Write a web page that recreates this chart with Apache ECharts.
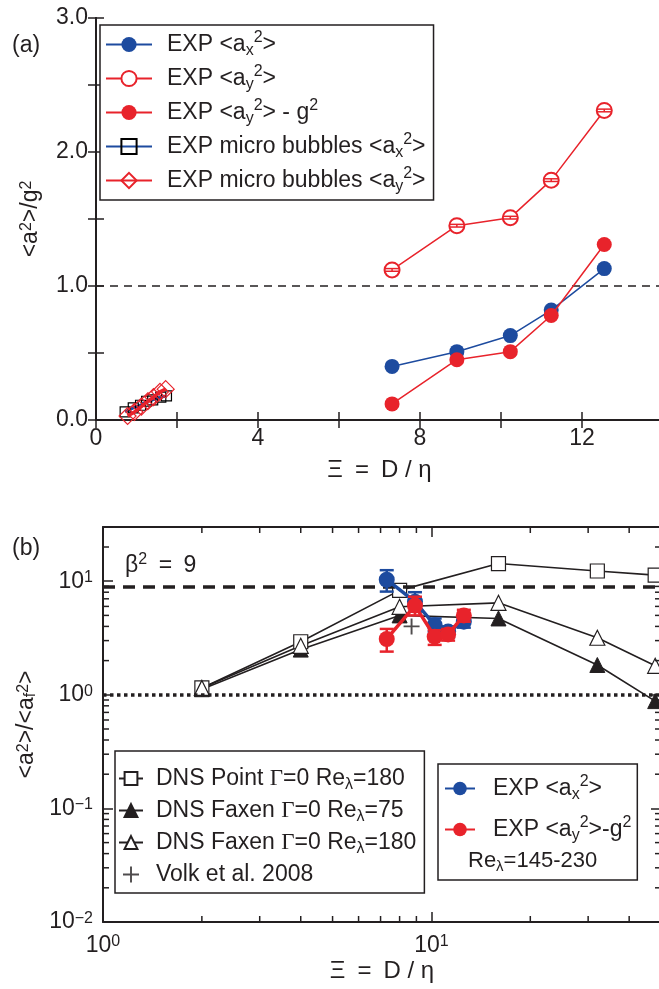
<!DOCTYPE html>
<html><head><meta charset="utf-8">
<script src="https://cdn.jsdelivr.net/npm/echarts@6/dist/echarts.min.js"></script>
<style>html,body{margin:0;padding:0;background:#fff}#main{width:659px;height:989px}</style>
</head><body><div id="main"></div>
<script>
// ---------- Panel (a) data ----------
const expX = [7.31, 8.91, 10.23, 11.24, 12.55];
const expAx2 = [0.40, 0.51, 0.63, 0.82, 1.13];
const expAy2 = [1.12, 1.45, 1.51, 1.79, 2.31];
const expAy2Lo = [1.11, 1.44, 1.50, 1.78, 2.30];
const expAy2Hi = [1.13, 1.46, 1.52, 1.80, 2.32];
const expAy2g2 = [0.12, 0.45, 0.51, 0.78, 1.31];
const microAxX = [0.72, 0.92, 1.10, 1.25, 1.40, 1.60, 1.74];
const microAx2 = [0.06, 0.09, 0.11, 0.14, 0.15, 0.17, 0.18];
const microAyX = [0.78, 0.95, 1.12, 1.28, 1.42, 1.58, 1.72];
const microAy2 = [0.03, 0.06, 0.10, 0.14, 0.17, 0.21, 0.23];
const refLineA = 1.0;

// ---------- Panel (b) data ----------
const dnsX = [2, 4, 8, 16, 32, 48];
const dnsPoint180 = [1.15, 2.93, 8.3, 14.3, 12.3, 11.3];
const dnsFaxen75 = [1.12, 2.50, 5.0, 4.7, 1.83, 0.88];
const dnsFaxen180 = [1.15, 2.70, 5.95, 6.45, 3.18, 1.80];
const volkX = [8.7];
const volkY = [4.0];
const ratioX = [10.3, 6.6, 4.1, 3.6, 4.4];
const ratioXLo = [8.1, 5.4, 3.6, 3.2, 3.9];
const ratioXHi = [12.5, 8.0, 4.7, 4.0, 4.9];
const ratioY = [3.1, 6.1, 3.25, 3.4, 5.0];
const ratioYLo = [2.4, 5.0, 2.75, 3.0, 4.4];
const ratioYHi = [3.8, 7.3, 3.7, 3.8, 5.6];
const beta2 = 9;
const unity = 1;
const xMinorB = [2, 3, 4, 5, 6, 7, 8, 9, 20, 30, 40];
const yMinorB = [0.02,0.03,0.04,0.05,0.06,0.07,0.08,0.09,0.2,0.3,0.4,0.5,0.6,0.7,0.8,0.9,2,3,4,5,6,7,8,9,20];
const xRangeB = [1, 50];
const yRangeB = [0.01, 30];

// ---------- styling ----------
const F = '"Liberation Sans", Arial, sans-serif';
const FS = 23;
const NFS = 24;
const INK = '#231f20';
const BLUE = '#1d4b9f';
const RED = '#e8232b';
function rich(fs, gap) {
  const s = Math.round(fs * 0.68);
  return {
    sup: {fontSize: s, fontFamily: F, color: INK, verticalAlign: 'top', lineHeight: s},
    sub: {fontSize: s, fontFamily: F, color: INK, verticalAlign: 'bottom', lineHeight: s},
    gr: {fontSize: fs, fontFamily: '"Liberation Serif", serif', color: INK, lineHeight: fs + 6},
    sp: {width: gap || 0, fontSize: fs, lineHeight: fs + 6}
  };
}
const R = rich(FS, 0);
const RN = rich(NFS, 0);

const labelsA = {
  ax2: 'EXP <a{sub|x}{sup|2}>',
  ay2: 'EXP <a{sub|y}{sup|2}>',
  ay2g2: 'EXP <a{sub|y}{sup|2}> - g{sup|2}',
  mAx2: 'EXP micro bubbles <a{sub|x}{sup|2}>',
  mAy2: 'EXP micro bubbles <a{sub|y}{sup|2}>'
};
const labelsB = {
  dnsP: 'DNS Point {gr|Γ}=0 Re{sub|λ}=180',
  dnsF75: 'DNS Faxen {gr|Γ}=0 Re{sub|λ}=75',
  dnsF180: 'DNS Faxen {gr|Γ}=0 Re{sub|λ}=180',
  volk: 'Volk et al. 2008',
  bAx: 'EXP <a{sub|x}{sup|2}>',
  bAy: 'EXP <a{sub|y}{sup|2}>-g{sup|2}'
};
const allLabels = Object.assign({}, labelsA, labelsB);

function decade(v) {
  const e = Math.log10(v), r = Math.round(e);
  if (Math.abs(e - r) > 1e-6) return '';
  return '10{sup|' + (r < 0 ? '\u2212' + (-r) : r) + '}';
}

const axisLineS = {lineStyle: {color: INK, width: 2}};
const tickS = (len) => ({inside: true, length: len, lineStyle: {color: INK, width: 1.5}});
const lblS = {fontSize: FS, color: INK, fontFamily: F, rich: R};
const nameX = {fontSize: NFS, color: INK, fontFamily: F, rich: RN};
const nameY = {fontSize: FS, color: INK, fontFamily: F, rich: R};
const xName = 'Ξ\u2002=\u2002D / η';

const zip = (a, b) => a.map((v, i) => [v, b[i]]);

function errBar(color, cap, lw) {
  return function (params, api) {
    const x = api.value(0), lo = api.value(1), hi = api.value(2);
    const p1 = api.coord([x, lo]), p2 = api.coord([x, hi]);
    const st = {stroke: color, lineWidth: lw};
    return {type: 'group', children: [
      {type: 'line', shape: {x1: p1[0], y1: p1[1], x2: p2[0], y2: p2[1]}, style: st},
      {type: 'line', shape: {x1: p1[0] - cap, y1: p1[1], x2: p1[0] + cap, y2: p1[1]}, style: st},
      {type: 'line', shape: {x1: p2[0] - cap, y1: p2[1], x2: p2[0] + cap, y2: p2[1]}, style: st}
    ]};
  };
}
function legendText(gap) {
  return {fontSize: FS, color: INK, fontFamily: F, lineHeight: 28, rich: rich(FS, gap)};
}

const chart = echarts.init(document.getElementById('main'));
const option = {
  animation: false,
  backgroundColor: '#fff',
  textStyle: {fontFamily: F},
  grid: [
    {left: 96, top: 18, width: 567, height: 402, containLabel: false, outerBoundsMode: 'none'},
    {left: 103, top: 527, width: 558, height: 395, containLabel: false, outerBoundsMode: 'none'}
  ],
  xAxis: [
    {gridIndex: 0, type: 'value', min: 0, max: 14, interval: 2, position: 'bottom',
     axisLine: axisLineS, axisTick: tickS(8), splitLine: {show: false},
     axisLabel: Object.assign({}, lblS, {margin: 7, formatter: v => (v % 4 === 0 && v < 14) ? String(v) : ''}),
     name: xName, nameLocation: 'middle', nameGap: 38, nameTextStyle: nameX},
    {gridIndex: 0, type: 'value', min: 0, max: 14, interval: 2, position: 'top',
     axisLine: axisLineS, axisTick: tickS(8), splitLine: {show: false}, axisLabel: {show: false}},
    {gridIndex: 1, type: 'log', min: xRangeB[0], max: xRangeB[1], position: 'bottom',
     axisLine: axisLineS, axisTick: tickS(10), splitLine: {show: false}, minorTick: {show: false},
     axisLabel: Object.assign({}, lblS, {margin: 12, formatter: decade}),
     name: xName, nameLocation: 'middle', nameGap: 37, nameTextStyle: nameX},
    {gridIndex: 1, type: 'log', min: xRangeB[0], max: xRangeB[1], position: 'top',
     axisLine: axisLineS, axisTick: tickS(10), splitLine: {show: false}, axisLabel: {show: false}}
  ],
  yAxis: [
    {gridIndex: 0, type: 'value', min: 0, max: 3, interval: 0.5, position: 'left',
     axisLine: axisLineS, axisTick: tickS(8), splitLine: {show: false},
     axisLabel: Object.assign({}, lblS, {margin: 8, formatter: v => (Math.abs(v - Math.round(v)) < 1e-9) ? v.toFixed(1) : ''}),
     name: '<a{sup|2}>/g{sup|2}', nameLocation: 'middle', nameGap: 54, nameRotate: 90, nameTextStyle: nameY},
    {gridIndex: 0, type: 'value', min: 0, max: 3, interval: 0.5, position: 'right',
     axisLine: axisLineS, axisTick: tickS(8), splitLine: {show: false}, axisLabel: {show: false}},
    {gridIndex: 1, type: 'log', min: yRangeB[0], max: yRangeB[1], position: 'left',
     axisLine: axisLineS, axisTick: tickS(10), splitLine: {show: false},
     axisLabel: Object.assign({}, lblS, {margin: 10, formatter: decade}),
     name: '<a{sup|2}>/<a{sub|f}{sup|2}>', nameLocation: 'middle', nameGap: 60, nameRotate: 90, nameTextStyle: nameY},
    {gridIndex: 1, type: 'log', min: yRangeB[0], max: yRangeB[1], position: 'right',
     axisLine: axisLineS, axisTick: tickS(10), splitLine: {show: false}, axisLabel: {show: false}}
  ],
  legend: [
    {left: 100, top: 25, orient: 'vertical', itemWidth: 46, itemHeight: 19, itemGap: 5,
     padding: [5, 8, 5, 5], borderColor: INK, borderWidth: 1.5, backgroundColor: '#fff',
     data: Object.keys(labelsA), formatter: n => '{sp| }' + allLabels[n],
     textStyle: legendText(10)},
    {left: 115, top: 751, orient: 'vertical', itemWidth: 24, itemHeight: 16, itemGap: 3,
     padding: [13, 8, 4, 3], borderColor: INK, borderWidth: 1.5, backgroundColor: '#fff',
     data: ['dnsP', 'dnsF75', 'dnsF180', 'volk'], formatter: n => '{sp| }' + allLabels[n],
     textStyle: legendText(8)},
    {left: 438, top: 764, orient: 'vertical', itemWidth: 30, itemHeight: 17, itemGap: 12,
     padding: [10, 6, 36, 6], borderColor: INK, borderWidth: 1.5, backgroundColor: '#fff',
     data: ['bAx', 'bAy'], formatter: n => '{sp| }' + allLabels[n],
     textStyle: legendText(13)}
  ],
  graphic: [
    {type: 'text', left: 12, top: 34, style: {text: '(a)', font: FS + 'px ' + F, fill: INK}},
    {type: 'text', left: 12, top: 537, style: {text: '(b)', font: FS + 'px ' + F, fill: INK}},
    {type: 'text', left: 125, top: 552, style: {text: 'β{sup|2}\u2002=\u20029', font: FS + 'px ' + F, fill: INK, lineHeight: 28, rich: R}},
    {type: 'text', left: 468, top: 848, z: 100, style: {text: 'Re{sub|λ}=145-230', font: '22px ' + F, fill: INK, lineHeight: 26, rich: rich(22, 0)}}
  ],
  series: [
    // ----- panel (a)
    {name: 'mAx2', type: 'line', xAxisIndex: 0, yAxisIndex: 0, data: zip(microAxX, microAx2),
     symbol: 'rect', symbolSize: 10, lineStyle: {color: BLUE, width: 3},
     itemStyle: {color: 'rgba(255,255,255,0)', borderColor: '#000', borderWidth: 1.2}, z: 3},
    {name: 'mAy2', type: 'line', xAxisIndex: 0, yAxisIndex: 0, data: zip(microAyX, microAy2),
     symbol: 'diamond', symbolSize: 17, lineStyle: {color: RED, width: 3.5},
     itemStyle: {color: 'rgba(255,255,255,0)', borderColor: RED, borderWidth: 1.2}, z: 4},
    {name: 'ay2', type: 'line', xAxisIndex: 0, yAxisIndex: 0, data: zip(expX, expAy2),
     symbol: 'emptyCircle', symbolSize: 15, lineStyle: {color: RED, width: 1.5},
     itemStyle: {color: RED, borderColor: RED, borderWidth: 1}, z: 3,
     markLine: {silent: true, symbol: 'none', label: {show: false},
       lineStyle: {color: INK, width: 1.5, type: [8, 6]}, data: [{yAxis: refLineA}]}},
    {name: 'ay2err', type: 'custom', xAxisIndex: 0, yAxisIndex: 0, silent: true, z: 4,
     data: expX.map((x, i) => [x, expAy2Lo[i], expAy2Hi[i]]), encode: {x: 0, y: [1, 2]},
     renderItem: errBar(RED, 7.5, 1.5)},
    {name: 'ax2', type: 'line', xAxisIndex: 0, yAxisIndex: 0, data: zip(expX, expAx2),
     symbol: 'circle', symbolSize: 15, lineStyle: {color: BLUE, width: 1.5},
     itemStyle: {color: BLUE}, z: 5},
    {name: 'ay2g2', type: 'line', xAxisIndex: 0, yAxisIndex: 0, data: zip(expX, expAy2g2),
     symbol: 'circle', symbolSize: 15, lineStyle: {color: RED, width: 1.5},
     itemStyle: {color: RED}, z: 6},
    // ----- panel (b)
    {name: 'dnsP', type: 'line', xAxisIndex: 2, yAxisIndex: 2, data: zip(dnsX, dnsPoint180),
     symbol: 'rect', symbolSize: 14, lineStyle: {color: INK, width: 1.6},
     itemStyle: {color: '#fff', borderColor: INK, borderWidth: 1.2}, z: 3,
     markLine: {silent: true, symbol: 'none', label: {show: false},
       data: [
         {yAxis: beta2, lineStyle: {color: INK, width: 3.5, type: [12, 8]}},
         {yAxis: unity, lineStyle: {color: INK, width: 3.5, type: [3.5, 3.5]}}
       ]}},
    {name: 'dnsF75', type: 'line', xAxisIndex: 2, yAxisIndex: 2, data: zip(dnsX, dnsFaxen75),
     symbol: 'triangle', symbolSize: 15, lineStyle: {color: INK, width: 1.6},
     itemStyle: {color: INK, borderColor: INK, borderWidth: 1}, z: 3},
    {name: 'dnsF180', type: 'line', xAxisIndex: 2, yAxisIndex: 2, data: zip(dnsX, dnsFaxen180),
     symbol: 'triangle', symbolSize: 15, lineStyle: {color: INK, width: 1.6},
     itemStyle: {color: '#fff', borderColor: INK, borderWidth: 1.2}, z: 3},
    {name: 'volk', type: 'scatter', xAxisIndex: 2, yAxisIndex: 2, data: zip(volkX, volkY),
     symbol: 'path://M4.4,0H5.6V4.4H10V5.6H5.6V10H4.4V5.6H0V4.4H4.4Z', symbolSize: 16,
     itemStyle: {color: INK}, z: 4},
    {name: 'bAxErr', type: 'custom', xAxisIndex: 2, yAxisIndex: 2, silent: true, z: 5,
     data: expX.map((x, i) => [x, ratioXLo[i], ratioXHi[i]]), encode: {x: 0, y: [1, 2]},
     renderItem: errBar(BLUE, 7, 2.5)},
    {name: 'bAx', type: 'line', xAxisIndex: 2, yAxisIndex: 2, data: zip(expX, ratioX),
     symbol: 'circle', symbolSize: 16, lineStyle: {color: BLUE, width: 3.5},
     itemStyle: {color: BLUE}, z: 6},
    {name: 'bAyErr', type: 'custom', xAxisIndex: 2, yAxisIndex: 2, silent: true, z: 7,
     data: expX.map((x, i) => [x, ratioYLo[i], ratioYHi[i]]), encode: {x: 0, y: [1, 2]},
     renderItem: errBar(RED, 7, 2.5)},
    {name: 'bAy', type: 'line', xAxisIndex: 2, yAxisIndex: 2, data: zip(expX, ratioY),
     symbol: 'circle', symbolSize: 16, lineStyle: {color: RED, width: 3.5},
     itemStyle: {color: RED}, z: 8},
    // minor ticks on log axes (positioned through the log scales)
    {name: 'xMinor', type: 'custom', xAxisIndex: 2, yAxisIndex: 2, silent: true, clip: false, z: 9,
     data: xMinorB.map(v => [v, 1]),
     renderItem: (p, api) => {
       const v = api.value(0);
       const b = api.coord([v, yRangeB[0]]), t = api.coord([v, yRangeB[1]]);
       const st = {stroke: INK, lineWidth: 1.5};
       return {type: 'group', children: [
         {type: 'line', shape: {x1: b[0], y1: b[1], x2: b[0], y2: b[1] - 6}, style: st},
         {type: 'line', shape: {x1: t[0], y1: t[1], x2: t[0], y2: t[1] + 6}, style: st}
       ]};
     }},
    {name: 'yMinor', type: 'custom', xAxisIndex: 2, yAxisIndex: 2, silent: true, clip: false, z: 9,
     data: yMinorB.map(v => [2, v]),
     renderItem: (p, api) => {
       const v = api.value(1);
       const l = api.coord([xRangeB[0], v]), r = api.coord([xRangeB[1], v]);
       const st = {stroke: INK, lineWidth: 1.5};
       return {type: 'group', children: [
         {type: 'line', shape: {x1: l[0], y1: l[1], x2: l[0] + 6, y2: l[1]}, style: st},
         {type: 'line', shape: {x1: r[0], y1: r[1], x2: r[0] - 6, y2: r[1]}, style: st}
       ]};
     }}
  ]
};
chart.setOption(option);
</script></body></html>
